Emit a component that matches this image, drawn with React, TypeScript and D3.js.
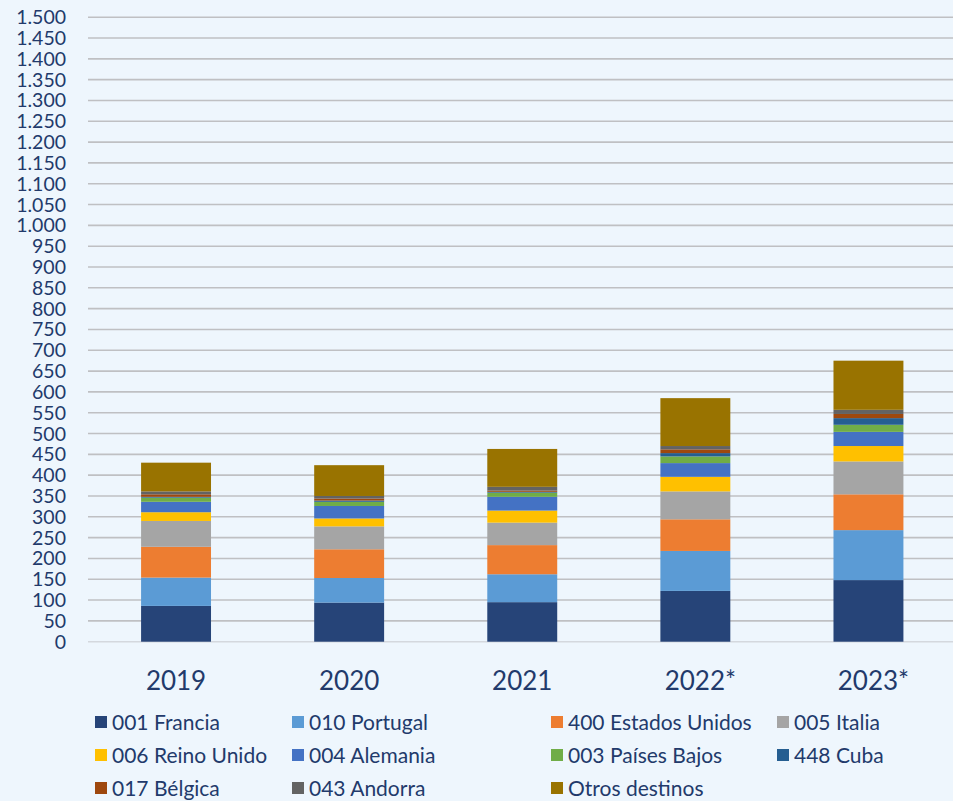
import React, { useEffect } from "react";
import * as d3 from "d3";

const years = ["2019", "2020", "2021", "2022*", "2023*"];
const seriesNames = [
  "001 Francia",
  "010 Portugal",
  "400 Estados Unidos",
  "005 Italia",
  "006 Reino Unido",
  "004 Alemania",
  "003 Países Bajos",
  "448 Cuba",
  "017 Bélgica",
  "043 Andorra",
  "Otros destinos",
];
const francia = [86, 94, 95, 122, 148];
const portugal = [68, 59, 67, 96, 120];
const estadosUnidos = [74, 69, 70, 76, 86];
const italia = [62, 55, 54, 67, 79];
const reinoUnido = [21, 19, 29, 35, 37];
const alemania = [25, 30, 33, 33, 34];
const paisesBajos = [10, 10, 10, 16, 17];
const cuba = [2, 3, 2, 8, 16];
const belgica = [6, 5, 3, 9, 10];
const andorra = [7, 6, 9, 8, 10];
const otros = [69, 74, 91, 115, 118];
const seriesValues = [
  francia, portugal, estadosUnidos, italia, reinoUnido, alemania,
  paisesBajos, cuba, belgica, andorra, otros,
];
const colors = [
  "#264478", "#5B9BD5", "#ED7D31", "#A5A5A5", "#FFC000", "#4472C4",
  "#70AD47", "#255E91", "#9E480E", "#636363", "#997300",
];
const yTicks = d3.range(0, 1501, 50);

const W = 953;
const H = 801;
const BG = "#EEF6FD";
const TEXT = "#223A6B";
const FONT = "Lato, 'Open Sans', sans-serif";

export default function App() {
  useEffect(() => {
    document.body.style.margin = "0";
    document.body.style.background = BG;
  }, []);

  const y = d3.scaleLinear().domain([0, 1500]).range([641.7, 17.2]);
  const x = d3
    .scaleBand<string>()
    .domain(years)
    .range([89.5, 955])
    .paddingInner(0.596)
    .paddingOuter(0.298);

  const table = years.map((yr, i) => {
    const row: Record<string, any> = { year: yr };
    seriesNames.forEach((s, j) => (row[s] = seriesValues[j][i]));
    return row;
  });
  const stacked = d3.stack<any>().keys(seriesNames)(table);
  const fmt = (v: number) => d3.format(",")(v).replace(/,/g, ".");

  const legendCols = [95, 292, 551, 777];
  const legendRows = [722, 755, 788];

  return (
    <svg
      width={W}
      height={H}
      style={{ position: "absolute", left: 0, top: 0, display: "block", background: BG }}
    >
      <rect x={0} y={0} width={W} height={H} fill={BG} />
      {yTicks.map((t) => (
        <g key={t}>
          <line
            x1={88}
            x2={W}
            y1={y(t)}
            y2={y(t)}
            stroke={t === 0 ? "#D4D8DE" : "#BFC0C3"}
            strokeWidth={1.6}
          />
          <text
            x={66}
            y={y(t)}
            dy="0.36em"
            textAnchor="end"
            fontFamily={FONT}
            fontSize={19.5}
            fill={TEXT}
          >
            {fmt(t)}
          </text>
        </g>
      ))}
      {stacked.map((layer, j) => (
        <g key={seriesNames[j]} fill={colors[j]}>
          {layer.map((d, i) => (
            <rect
              key={i}
              x={x(years[i])!}
              width={x.bandwidth()}
              y={y(d[1])}
              height={y(d[0]) - y(d[1])}
            />
          ))}
        </g>
      ))}
      {years.map((yr) => (
        <text
          key={yr}
          x={x(yr)! + x.bandwidth() / 2 + (yr.endsWith("*") ? 5 : 0)}
          y={690}
          textAnchor="middle"
          fontFamily={FONT}
          fontSize={26}
          fill={TEXT}
        >
          {yr}
        </text>
      ))}
      {seriesNames.map((s, j) => {
        const cx = legendCols[j % 4];
        const cy = legendRows[Math.floor(j / 4)];
        return (
          <g key={s}>
            <rect x={cx} y={cy - 6} width={12} height={12} fill={colors[j]} />
            <text
              x={cx + 17}
              y={cy}
              dy="0.36em"
              fontFamily={FONT}
              fontSize={21}
              fill={TEXT}
            >
              {s}
            </text>
          </g>
        );
      })}
    </svg>
  );
}
